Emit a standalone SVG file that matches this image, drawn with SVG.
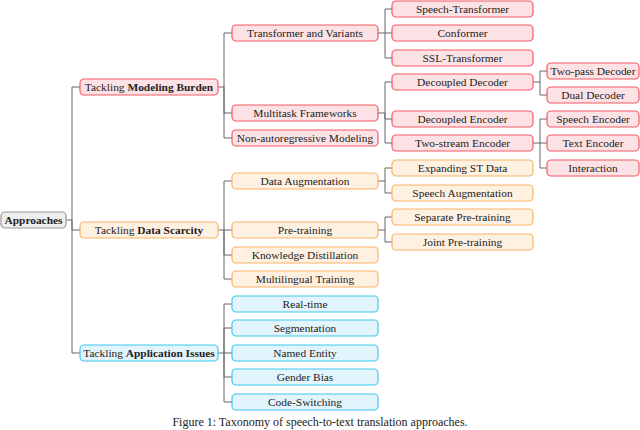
<svg xmlns="http://www.w3.org/2000/svg" width="640" height="430" viewBox="0 0 640 430">
<style>
rect{stroke-width:1.2}
.r rect{fill:#fde2e5;stroke:#f25a66}
.o rect{fill:#fff1e2;stroke:#f7b466}
.c rect{fill:#e2f5fc;stroke:#3fc6f0}
.g rect{fill:#eeeeee;stroke:#999}
text{font-family:"Liberation Serif",serif;font-size:11.4px;fill:#222;text-anchor:middle;dominant-baseline:central}
.lines path{fill:none;stroke:#666;stroke-width:1}
</style>
<g class="lines">
<path d="M66,220H72M72,220V87H80M72,220V230H80M72,220V353H80"/>
<path d="M218,87H224M224,87V33H232M224,87V113H232M224,87V138H232"/>
<path d="M218,230H224M224,230V181H232M224,230V255H232M224,230V279H232M224,230H232"/>
<path d="M218,353H224M224,353V304H232M224,353V328H232M224,353V377H232M224,353V402H232M224,353H232"/>
<path d="M378,33H385M385,33V9H392M385,33V58H392M385,33H392"/>
<path d="M378,113H385M385,113V82H392M385,113V119H392M385,113V143H392"/>
<path d="M378,181H385M385,181V168H392M385,181V193H392"/>
<path d="M378,230H385M385,230V217H392M385,230V242H392"/>
<path d="M533,82H540M540,82V71H547M540,82V95H547"/>
<path d="M533,143H540M540,143V119H547M540,143V168H547M540,143H547"/>
</g>
<g id="root" class="g"><rect x="1" y="212" width="65" height="16" rx="4"/><text x="33.5" y="220" font-weight="bold">Approaches</text></g>
<g id="mb" class="r"><rect x="80" y="79" width="138" height="16" rx="4"/><text x="149" y="87">Tackling <tspan font-weight="bold">Modeling Burden</tspan></text></g>
<g id="ds" class="o"><rect x="80" y="222" width="138" height="16" rx="4"/><text x="149" y="230">Tackling <tspan font-weight="bold">Data Scarcity</tspan></text></g>
<g id="ai" class="c"><rect x="80" y="345" width="138" height="16" rx="4"/><text x="149" y="353">Tackling <tspan font-weight="bold">Application Issues</tspan></text></g>
<g id="tv" class="r"><rect x="232" y="25" width="146" height="16" rx="4"/><text x="305" y="33">Transformer and Variants</text></g>
<g id="mf" class="r"><rect x="232" y="105" width="146" height="16" rx="4"/><text x="305" y="113">Multitask Frameworks</text></g>
<g id="na" class="r"><rect x="232" y="130" width="146" height="16" rx="4"/><text x="305" y="138">Non-autoregressive Modeling</text></g>
<g id="da" class="o"><rect x="232" y="173" width="146" height="16" rx="4"/><text x="305" y="181">Data Augmentation</text></g>
<g id="pt" class="o"><rect x="232" y="222" width="146" height="16" rx="4"/><text x="305" y="230">Pre-training</text></g>
<g id="kd" class="o"><rect x="232" y="247" width="146" height="16" rx="4"/><text x="305" y="255">Knowledge Distillation</text></g>
<g id="ml" class="o"><rect x="232" y="271" width="146" height="16" rx="4"/><text x="305" y="279">Multilingual Training</text></g>
<g id="rt" class="c"><rect x="232" y="296" width="146" height="16" rx="4"/><text x="305" y="304">Real-time</text></g>
<g id="sg" class="c"><rect x="232" y="320" width="146" height="16" rx="4"/><text x="305" y="328">Segmentation</text></g>
<g id="ne" class="c"><rect x="232" y="345" width="146" height="16" rx="4"/><text x="305" y="353">Named Entity</text></g>
<g id="gb" class="c"><rect x="232" y="369" width="146" height="16" rx="4"/><text x="305" y="377">Gender Bias</text></g>
<g id="cs" class="c"><rect x="232" y="394" width="146" height="16" rx="4"/><text x="305" y="402">Code-Switching</text></g>
<g id="st" class="r"><rect x="392" y="1" width="141" height="16" rx="4"/><text x="462.5" y="9">Speech-Transformer</text></g>
<g id="cf" class="r"><rect x="392" y="25" width="141" height="16" rx="4"/><text x="462.5" y="33">Conformer</text></g>
<g id="ssl" class="r"><rect x="392" y="50" width="141" height="16" rx="4"/><text x="462.5" y="58">SSL-Transformer</text></g>
<g id="dd" class="r"><rect x="392" y="74" width="141" height="16" rx="4"/><text x="462.5" y="82">Decoupled Decoder</text></g>
<g id="de" class="r"><rect x="392" y="111" width="141" height="16" rx="4"/><text x="462.5" y="119">Decoupled Encoder</text></g>
<g id="ts" class="r"><rect x="392" y="135" width="141" height="16" rx="4"/><text x="462.5" y="143">Two-stream Encoder</text></g>
<g id="ex" class="o"><rect x="392" y="160" width="141" height="16" rx="4"/><text x="462.5" y="168">Expanding ST Data</text></g>
<g id="sa" class="o"><rect x="392" y="185" width="141" height="16" rx="4"/><text x="462.5" y="193">Speech Augmentation</text></g>
<g id="sp" class="o"><rect x="392" y="209" width="141" height="16" rx="4"/><text x="462.5" y="217">Separate Pre-training</text></g>
<g id="jp" class="o"><rect x="392" y="234" width="141" height="16" rx="4"/><text x="462.5" y="242">Joint Pre-training</text></g>
<g id="tp" class="r"><rect x="547" y="63" width="92" height="16" rx="4"/><text x="593" y="71">Two-pass Decoder</text></g>
<g id="dl" class="r"><rect x="547" y="87" width="92" height="16" rx="4"/><text x="593" y="95">Dual Decoder</text></g>
<g id="se" class="r"><rect x="547" y="111" width="92" height="16" rx="4"/><text x="593" y="119">Speech Encoder</text></g>
<g id="te" class="r"><rect x="547" y="135" width="92" height="16" rx="4"/><text x="593" y="143">Text Encoder</text></g>
<g id="it" class="r"><rect x="547" y="160" width="92" height="16" rx="4"/><text x="593" y="168">Interaction</text></g>
<text x="320" y="422" style="font-size:12px">Figure 1: Taxonomy of speech-to-text translation approaches.</text>
</svg>
